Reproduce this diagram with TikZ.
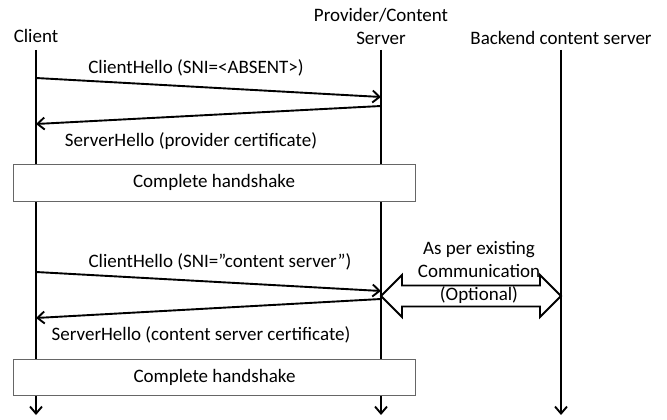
\documentclass[tikz,border=0pt]{standalone}
\usepackage{fontspec}
\setmainfont{Carlito}
\usetikzlibrary{arrows.meta}

\tikzset{
    lifeline/.style={line width=1.9pt, -{Straight Barb[length=7pt,width=12pt]}},
    msg/.style={line width=1.9pt, -{Straight Barb[length=7pt,width=12pt]}},
    hsbox/.style={draw=black!60, line width=0.8pt, fill=white, minimum width=402pt, minimum height=37pt, inner sep=0pt},
    commarrow/.style={draw, fill=white, line width=1.9pt}
}

\begin{document}
\begin{tikzpicture}[x=1pt, y=-1pt, font=\fontsize{19}{23}\selectfont]
    \def\clientX{36}
    \def\providerX{381}
    \def\backendX{561}
    \def\lineTop{50}
    \def\lineEnd{415}

    \useasboundingbox (0,0) rectangle (667,420);

    \node (client) at (\clientX,36) {Client};
    \node[align=center] (provider) at (\providerX,26) {Provider/Content\\Server};
    \node (backend) at (\backendX,38) {Backend content server};

    \foreach \name/\x in {client/\clientX, provider/\providerX, backend/\backendX} {
        \coordinate (\name top) at (\x,\lineTop);
        \coordinate (\name end) at (\x,\lineEnd);
        \draw[lifeline] (\name top) -- (\name end);
    }

    \coordinate (hello1 from) at (\clientX,78);
    \coordinate (hello1 to) at (\providerX,97);
    \draw[msg] (hello1 from) -- (hello1 to);
    \node (hello1) at (196,68) {ClientHello (SNI=<ABSENT>)};

    \coordinate (reply1 from) at (\providerX,106);
    \coordinate (reply1 to) at (\clientX,124);
    \draw[msg] (reply1 from) -- (reply1 to);
    \node (reply1) at (191,141) {ServerHello (provider certificate)};

    \node[hsbox] (handshake1) at (214,182.5) {Complete handshake};

    \coordinate (hello2 from) at (\clientX,272);
    \coordinate (hello2 to) at (\providerX,291);
    \draw[msg] (hello2 from) -- (hello2 to);
    \node (hello2) at (220,262) {ClientHello (SNI=”content server”)};

    \coordinate (reply2 from) at (\providerX,299);
    \coordinate (reply2 to) at (\clientX,318);
    \draw[msg] (reply2 from) -- (reply2 to);
    \node (reply2) at (201,335) {ServerHello (content server certificate)};

    \node[hsbox, minimum height=36pt] (handshake2) at (214.5,377) {Complete handshake};

    \coordinate (comm tip) at (\providerX,296);
    \draw[commarrow] (comm tip) -- ++(21,-21) -- ++(0,10.5) -- ++(138,0) -- ++(0,-10.5)
        -- ++(21,21) -- ++(-21,21) -- ++(0,-10.5) -- ++(-138,0) -- ++(0,10.5) -- cycle;
    \node[align=center] (comm) at (479,272) {As per existing\\Communication\\(Optional)};

\end{tikzpicture}
\end{document}
